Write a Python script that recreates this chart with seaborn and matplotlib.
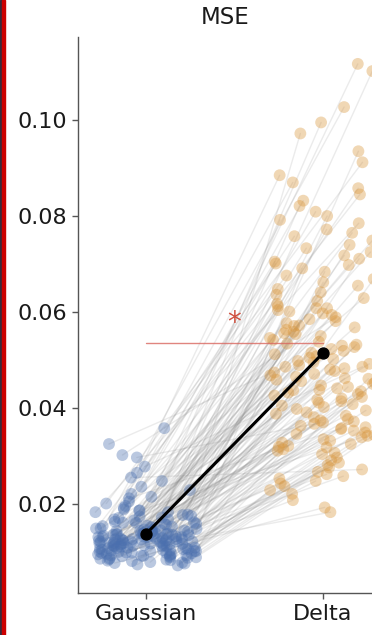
import numpy as np
import pandas as pd
import matplotlib
matplotlib.use("Agg")
import matplotlib.pyplot as plt
from matplotlib.patches import Rectangle
import seaborn as sns

# Per-subject MSE under the two conditions (paired, same order)
conditions = ["Gaussian", "Delta"]

gaussian_mse = [
    0.0215, 0.0168, 0.0192, 0.0155, 0.0178, 0.0142, 0.0201, 0.0163, 0.0131, 0.0187, 0.0149, 0.0236, 0.0172, 0.0125, 0.0158, 0.0139,
    0.0183, 0.0146, 0.0128, 0.0265, 0.0161, 0.0137, 0.0174, 0.0119, 0.0152, 0.0133, 0.0196, 0.0144,
    0.0166, 0.0122, 0.0148, 0.0358, 0.0135, 0.0177, 0.0113, 0.0154, 0.0129, 0.0142, 0.0221, 0.0108, 0.0161, 0.0138, 0.0117, 0.0189, 0.0126, 0.0145,
    0.0151, 0.0124, 0.0302, 0.0139, 0.0112, 0.0168, 0.0131, 0.0105, 0.0147, 0.0121, 0.0183, 0.0136, 0.0098, 0.0157, 0.0127, 0.0114,
    0.0205, 0.0133, 0.0109, 0.0144, 0.0118, 0.0171, 0.0102, 0.0137, 0.0125, 0.0248, 0.0116, 0.0092,
    0.0128, 0.0107, 0.0149, 0.0119, 0.0325, 0.0134, 0.0096, 0.0141, 0.0115, 0.0162, 0.0123, 0.0101, 0.0138, 0.0111, 0.0175, 0.0126,
    0.0094, 0.0132, 0.0117, 0.0153, 0.0104, 0.0229, 0.0121, 0.0099, 0.0143, 0.0113, 0.0136, 0.0089, 0.0127, 0.0159, 0.0106, 0.0118,
    0.0131, 0.0278, 0.0097, 0.0122,
    0.0114, 0.0092, 0.0137, 0.0103, 0.0121, 0.0088, 0.0145, 0.0108, 0.0297, 0.0095, 0.0126, 0.0083, 0.0112, 0.0139, 0.0091, 0.0118,
    0.0102, 0.0186, 0.0086, 0.0124, 0.0098, 0.0109, 0.0079, 0.0131, 0.0093, 0.0115, 0.0084, 0.0106, 0.0212, 0.0101, 0.0076, 0.0119,
    0.0096, 0.0087, 0.0112, 0.0078, 0.0104, 0.0255, 0.0091, 0.0082, 0.0099, 0.0074, 0.0108, 0.0085, 0.0093, 0.0072, 0.0089, 0.0081,
    0.0077, 0.0100,
]

delta_mse = [
    0.1117, 0.1102, 0.1027, 0.0995, 0.0972, 0.0935, 0.0912, 0.0885, 0.0870, 0.0858, 0.0845, 0.0832, 0.0821, 0.0809, 0.0800, 0.0792,
    0.0785, 0.0772, 0.0765, 0.0758, 0.0749, 0.0740, 0.0733, 0.0725, 0.0718, 0.0711, 0.0705, 0.0701,
    0.0698, 0.0691, 0.0684, 0.0676, 0.0669, 0.0662, 0.0655, 0.0648, 0.0641, 0.0636, 0.0629, 0.0623, 0.0617, 0.0612, 0.0608, 0.0604, 0.0601, 0.0608,
    0.0597, 0.0594, 0.0589, 0.0585, 0.0581, 0.0577, 0.0572, 0.0568, 0.0563, 0.0559, 0.0554, 0.0550, 0.0546, 0.0542, 0.0538, 0.0534,
    0.0530, 0.0527, 0.0523, 0.0519, 0.0515, 0.0512, 0.0508, 0.0505, 0.0502, 0.0556, 0.0571, 0.0532,
    0.0498, 0.0495, 0.0492, 0.0489, 0.0486, 0.0483, 0.0480, 0.0477, 0.0474, 0.0471, 0.0468, 0.0465, 0.0462, 0.0459, 0.0456, 0.0453,
    0.0450, 0.0447, 0.0444, 0.0441, 0.0438, 0.0435, 0.0432, 0.0429, 0.0426, 0.0423, 0.0420, 0.0417, 0.0414, 0.0411, 0.0408, 0.0405,
    0.0402, 0.0486, 0.0461, 0.0437,
    0.0398, 0.0395, 0.0391, 0.0388, 0.0384, 0.0381, 0.0377, 0.0374, 0.0370, 0.0367, 0.0363, 0.0360, 0.0356, 0.0353, 0.0349, 0.0346,
    0.0342, 0.0339, 0.0335, 0.0332, 0.0328, 0.0325, 0.0321, 0.0318, 0.0314, 0.0311, 0.0307, 0.0304, 0.0358, 0.0372, 0.0344, 0.0319,
    0.0297, 0.0291, 0.0286, 0.0281, 0.0276, 0.0272, 0.0267, 0.0262, 0.0258, 0.0253, 0.0248, 0.0243, 0.0237, 0.0229, 0.0221, 0.0208,
    0.0193, 0.0183,
]

yticks = [0.02, 0.04, 0.06, 0.08, 0.10]
ytick_labels = ["0.02", "0.04", "0.06", "0.08", "0.10"]

# significance bar between the condition means
sig_level = 0.0535
sig_label = "*"

sns.set_theme(style="ticks")
plt.rcParams["font.family"] = ["DejaVu Sans"]

n = len(gaussian_mse)
df = pd.DataFrame({
    "condition": [conditions[0]] * n + [conditions[1]] * n,
    "mse": gaussian_mse + delta_mse,
})

fig = plt.figure(figsize=(3.72, 6.35), dpi=100)
ax = fig.add_axes([78 / 372, 42 / 635, 294 / 372, 556 / 635])

palette = {"Gaussian": "#4a6fae", "Delta": "#d9963c"}
np.random.seed(3)
sns.stripplot(data=df, x="condition", y="mse", hue="condition", order=conditions,
              palette=palette, jitter=0.3, size=8.5, alpha=0.38, linewidth=0,
              legend=False, ax=ax, zorder=3)

# connect each subject's pair of points
pts_g = ax.collections[0].get_offsets()
pts_d = ax.collections[1].get_offsets()
for (xg, yg), (xd, yd) in zip(pts_g, pts_d):
    ax.plot([xg, xd], [yg, yd], color="#8a8a8a", alpha=0.17, lw=1.0, zorder=2)

# condition means
means = [np.mean(gaussian_mse), np.mean(delta_mse)]
ax.plot([0, 1], means, color="black", lw=2.2, zorder=5)
ax.scatter([0, 1], means, color="black", s=62, zorder=6)

ax.plot([0, 1], [sig_level, sig_level], color="#d9675f", lw=1.0, alpha=0.8, zorder=4)
ax.text(0.5, sig_level + 0.0012, sig_label, color="#d0503f", fontsize=20,
        ha="center", va="bottom", zorder=6)

ax.set_xlim(-0.384, 1.277)
ax.set_ylim(0.00146, 0.1173)
ax.set_yticks(yticks)
ax.set_yticklabels(ytick_labels)
ax.set_xlabel("")
ax.set_ylabel("")
ax.set_title("MSE", fontsize=16.5, pad=9, color="#1a1a1a")
ax.tick_params(axis="both", labelsize=16, length=4, width=1, color="#555555",
               labelcolor="#1a1a1a", pad=4)
for side in ["left", "bottom"]:
    ax.spines[side].set_color("#555555")
    ax.spines[side].set_linewidth(1.0)
sns.despine(ax=ax)

# panel border at the left edge
fig.patches.append(Rectangle((0, 0), 2 / 372, 1, transform=fig.transFigure,
                             color="#3a2a3a", zorder=10))
fig.patches.append(Rectangle((2 / 372, 0), 3 / 372, 1, transform=fig.transFigure,
                             color="#cc0000", zorder=10))

fig.savefig("out.png", dpi=100)
